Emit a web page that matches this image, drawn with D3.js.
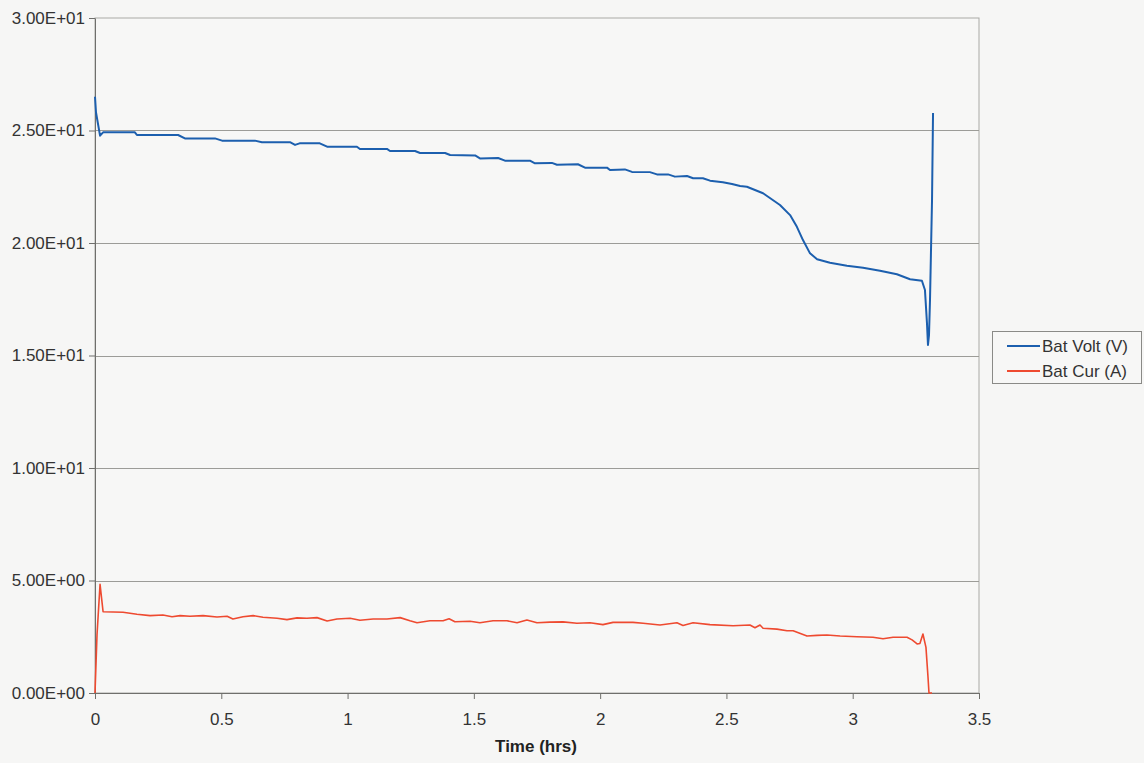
<!DOCTYPE html>
<html>
<head>
<meta charset="utf-8">
<script src="https://cdn.jsdelivr.net/npm/d3@7/dist/d3.min.js"></script>
<style>
  html, body { margin: 0; padding: 0; background: #f6f6f5; }
  svg { display: block; font-family: "Liberation Sans", Arial, sans-serif; }
</style>
</head>
<body>
<svg id="chart" width="1144" height="763"></svg>
<script>
// ---- data ----
const xTicks = [0, 0.5, 1, 1.5, 2, 2.5, 3, 3.5];
const xTickLabels = ["0", "0.5", "1", "1.5", "2", "2.5", "3", "3.5"];
const yTicks = [0, 5, 10, 15, 20, 25, 30];
const yTickLabels = ["0.00E+00", "5.00E+00", "1.00E+01", "1.50E+01", "2.00E+01", "2.50E+01", "3.00E+01"];
const seriesNames = ["Bat Volt (V)", "Bat Cur (A)"];
const xTitle = "Time (hrs)";

const voltTime = [0, 0.004, 0.02, 0.032, 0.158, 0.166, 0.329, 0.356, 0.475, 0.503, 0.633, 0.661, 0.772, 0.792, 0.81, 0.89, 0.919, 1.037, 1.049, 1.156, 1.168, 1.267, 1.287, 1.386, 1.406, 1.505, 1.524, 1.596, 1.623, 1.722, 1.742, 1.809, 1.829, 1.912, 1.94, 2.027, 2.039, 2.098, 2.126, 2.197, 2.225, 2.269, 2.296, 2.344, 2.368, 2.407, 2.435, 2.486, 2.522, 2.554, 2.581, 2.645, 2.712, 2.752, 2.779, 2.803, 2.831, 2.859, 2.91, 2.977, 3.041, 3.108, 3.175, 3.227, 3.274, 3.286, 3.294, 3.298, 3.302, 3.306, 3.314, 3.318];
const voltValue = [26.5, 25.8, 24.77, 24.92, 24.92, 24.8, 24.8, 24.65, 24.65, 24.55, 24.55, 24.48, 24.48, 24.36, 24.43, 24.43, 24.28, 24.28, 24.18, 24.18, 24.09, 24.09, 24.0, 24.0, 23.91, 23.89, 23.76, 23.78, 23.66, 23.66, 23.54, 23.56, 23.48, 23.5, 23.35, 23.35, 23.24, 23.27, 23.16, 23.15, 23.05, 23.05, 22.95, 22.98, 22.88, 22.88, 22.77, 22.7, 22.62, 22.53, 22.5, 22.21, 21.69, 21.24, 20.72, 20.13, 19.54, 19.28, 19.12, 18.99, 18.9, 18.77, 18.61, 18.39, 18.32, 17.91, 16.44, 15.47, 15.9, 17.47, 21.9, 25.78];

const curTime = [0, 0.008, 0.02, 0.032, 0.111, 0.166, 0.218, 0.269, 0.305, 0.337, 0.376, 0.428, 0.483, 0.523, 0.546, 0.586, 0.626, 0.665, 0.721, 0.76, 0.8, 0.839, 0.879, 0.919, 0.958, 1.01, 1.049, 1.101, 1.156, 1.208, 1.247, 1.275, 1.326, 1.378, 1.402, 1.425, 1.485, 1.524, 1.576, 1.631, 1.671, 1.71, 1.75, 1.801, 1.853, 1.908, 1.96, 2.011, 2.051, 2.13, 2.17, 2.237, 2.304, 2.328, 2.368, 2.435, 2.526, 2.593, 2.613, 2.633, 2.645, 2.7, 2.74, 2.764, 2.819, 2.859, 2.898, 2.95, 3.017, 3.08, 3.12, 3.16, 3.215, 3.235, 3.255, 3.266, 3.278, 3.29, 3.298, 3.302, 3.314];
const curValue = [0, 2.6, 4.83, 3.61, 3.59, 3.5, 3.44, 3.47, 3.39, 3.44, 3.41, 3.44, 3.38, 3.41, 3.29, 3.39, 3.44, 3.37, 3.32, 3.26, 3.34, 3.32, 3.35, 3.2, 3.29, 3.32, 3.23, 3.29, 3.29, 3.35, 3.21, 3.12, 3.21, 3.21, 3.3, 3.17, 3.19, 3.12, 3.21, 3.21, 3.12, 3.24, 3.12, 3.15, 3.16, 3.1, 3.12, 3.04, 3.14, 3.14, 3.1, 3.02, 3.12, 3.0, 3.12, 3.04, 2.99, 3.02, 2.9, 3.02, 2.88, 2.84, 2.77, 2.77, 2.53, 2.56, 2.58, 2.53, 2.5, 2.48, 2.41, 2.48, 2.48, 2.36, 2.18, 2.2, 2.62, 2.03, 0.72, 0, 0];

const colors = ["#1c5fae", "#ee4a30"];

// ---- layout ----
const svg = d3.select("#chart");
const mLeft = 95, mRight = 979, mTop = 18, mBottom = 693;
const fontSize = 17;
const x = d3.scaleLinear().domain([0, 3.5]).range([mLeft, mRight]);
const y = d3.scaleLinear().domain([0, 30]).range([mBottom, mTop]);

// plot frame (top/right)
svg.append("rect").attr("x", mLeft).attr("y", mTop).attr("width", mRight - mLeft).attr("height", mBottom - mTop)
  .attr("fill", "#f7f7f6").attr("stroke", "#a9a9a6").attr("stroke-width", 1);

// grid lines
svg.append("g").selectAll("line").data(yTicks.filter(d => d > 0 && d < 30)).join("line")
  .attr("x1", mLeft).attr("x2", mRight).attr("y1", d => Math.round(y(d)) + 0.5).attr("y2", d => Math.round(y(d)) + 0.5)
  .attr("stroke", "#9c9c98").attr("stroke-width", 1);

// y axis
const yAxis = d3.axisLeft(y).tickValues(yTicks).tickSize(6).tickSizeOuter(0)
  .tickFormat((d, i) => yTickLabels[i]);
const gy = svg.append("g").attr("transform", `translate(${mLeft},0)`).call(yAxis);
gy.select(".domain").attr("stroke", "#6f6f6c");
gy.selectAll(".tick line").attr("stroke", "#6f6f6c");
gy.selectAll(".tick text").attr("font-size", fontSize).attr("fill", "#333").attr("x", -10)
  .attr("font-family", "Liberation Sans, Arial, sans-serif");

// x axis
const xAxis = d3.axisBottom(x).tickValues(xTicks).tickSize(6).tickSizeOuter(0)
  .tickFormat((d, i) => xTickLabels[i]);
const gx = svg.append("g").attr("transform", `translate(0,${mBottom})`).call(xAxis);
gx.select(".domain").attr("stroke", "#6f6f6c");
gx.selectAll(".tick line").attr("stroke", "#6f6f6c");
gx.selectAll(".tick text").attr("font-size", fontSize).attr("fill", "#333").attr("y", 0).attr("dy", "1.9em")
  .attr("font-family", "Liberation Sans, Arial, sans-serif");

svg.append("text").attr("x", 536).attr("y", 752).attr("text-anchor", "middle")
  .attr("font-size", fontSize).attr("font-weight", "bold").attr("fill", "#222").text(xTitle);

// lines
const line = d3.line().x(d => x(d[0])).y(d => y(d[1]));
const voltData = voltTime.map((t, i) => [t, voltValue[i]]);
const curData = curTime.map((t, i) => [t, curValue[i]]);
svg.append("path").datum(voltData).attr("d", line).attr("fill", "none")
  .attr("stroke", colors[0]).attr("stroke-width", 2).attr("stroke-linejoin", "round");
svg.append("path").datum(curData).attr("d", line).attr("fill", "none")
  .attr("stroke", colors[1]).attr("stroke-width", 1.6).attr("stroke-linejoin", "round");

// legend
const lg = svg.append("g");
lg.append("rect").attr("x", 992.5).attr("y", 331.5).attr("width", 149).attr("height", 52)
  .attr("fill", "#f7f7f6").attr("stroke", "#8a8a87").attr("stroke-width", 1);
seriesNames.forEach((name, i) => {
  const yy = 346 + i * 25;
  lg.append("line").attr("x1", 1007).attr("x2", 1040).attr("y1", yy).attr("y2", yy)
    .attr("stroke", colors[i]).attr("stroke-width", 2);
  lg.append("text").attr("x", 1042).attr("y", yy).attr("dy", "0.35em")
    .attr("font-size", fontSize).attr("fill", "#333").text(name);
});
</script>
</body>
</html>
